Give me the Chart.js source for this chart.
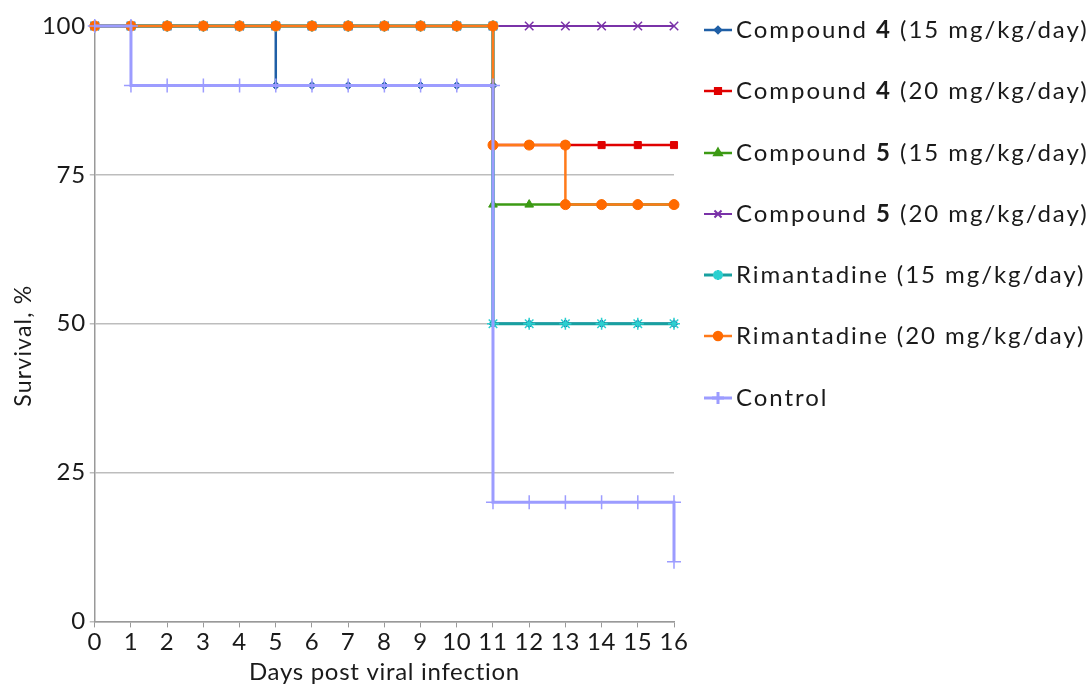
<!DOCTYPE html>
<html>
<head>
<meta charset="utf-8">
<script src="https://cdn.jsdelivr.net/npm/chart.js@4.4.1/dist/chart.umd.min.js"></script>
<style>
  body { margin: 0; background: #fff; font-family: Lato, sans-serif; }
  #wrap { position: absolute; left: 0; top: 0; width: 700px; height: 687px; }
  #legend { position: absolute; left: 703px; top: 14px; }
  .item { height: 61.3px; display: flex; align-items: flex-start; font-size: 24px; letter-spacing: 1.95px; color: #1a1a1a; white-space: nowrap; }
  .item canvas { margin-top: 8px; margin-right: 3px; }
</style>
</head>
<body>
<div id="wrap"><canvas id="surv"></canvas></div>
<div id="legend"></div>
<script>
// days post infection
var days = [0,1,2,3,4,5,6,7,8,9,10,11,12,13,14,15,16];

// survival (%) on each day
var cmp4_15 = [100,100,100,100,100,90,90,90,90,90,90,50,50,50,50,50,50];
var cmp4_20 = [100,100,100,100,100,100,100,100,100,100,100,80,80,80,80,80,80];
var cmp5_15 = [100,100,100,100,100,100,100,100,100,100,100,70,70,70,70,70,70];
var cmp5_20 = [100,100,100,100,100,100,100,100,100,100,100,100,100,100,100,100,100];
var rim_15  = [100,100,100,100,100,100,100,100,100,100,100,50,50,50,50,50,50];
var rim_20  = [100,100,100,100,100,100,100,100,100,100,100,80,80,70,70,70,70];
var control = [100,90,90,90,90,90,90,90,90,90,90,20,20,20,20,20,10];

var labels = [
  'Compound <b>4</b> (15 mg/kg/day)',
  'Compound <b>4</b> (20 mg/kg/day)',
  'Compound <b>5</b> (15 mg/kg/day)',
  'Compound <b>5</b> (20 mg/kg/day)',
  'Rimantadine (15 mg/kg/day)',
  'Rimantadine (20 mg/kg/day)',
  'Control'
];
var yTicks = [0, 25, 50, 75, 100];
var yTitle = 'Survival, %';

var series = [cmp4_15, cmp4_20, cmp5_15, cmp5_20, rim_15, rim_20, control];
var colors = ['#1f5fa6', '#e00000', '#3c9a14', '#7a32a8', '#18a0a0', '#ff7a1a', '#9c9cff'];
var pointColors = ['#1f5fa6', '#e00000', '#3c9a14', '#7a32a8', '#2ad0d0', '#ff6a00', '#9c9cff'];
var styles = ['rectRot', 'rect', 'triangle', 'crossRot', 'star', 'circle', 'cross'];
var radii = [4, 5, 5, 6, 6, 5, 7];
var widths = [2.5, 2.5, 2.5, 2, 3, 2.5, 3];

// survival curve: horizontal then drop on the event day
function steps(vals) {
  var pts = [];
  for (var i = 0; i < days.length; i++) {
    if (i > 0 && vals[i] !== vals[i - 1]) pts.push({x: days[i], y: vals[i - 1]});
    pts.push({x: days[i], y: vals[i]});
  }
  return pts;
}

var datasets = series.map(function(s, i) {
  return {
    label: labels[i].replace(/<\/?b>/g, ''),
    data: steps(s),
    showLine: true,
    borderColor: colors[i],
    borderWidth: widths[i],
    pointStyle: styles[i],
    pointRadius: radii[i],
    pointBackgroundColor: pointColors[i],
    pointBorderColor: pointColors[i],
    pointBorderWidth: styles[i] == 'cross' || styles[i] == 'crossRot' || styles[i] == 'star' ? 1.5 : 1,
    order: series.length - i,
    clip: false
  };
});

var tickFont = { family: 'Lato', size: 24 };

// wider letter spacing, and the y title sitting a bit below centre like the original
var spaced = {
  id: 'spaced',
  beforeDraw: function(chart) { chart.ctx.letterSpacing = '0.7px'; },
  afterDraw: function(chart) {
    var ctx = chart.ctx, a = chart.chartArea;
    ctx.save();
    ctx.letterSpacing = '1.2px';
    ctx.translate(24, (a.top + a.bottom) / 2 + 22);
    ctx.rotate(-Math.PI / 2);
    ctx.font = '23px Lato';
    ctx.fillStyle = '#1a1a1a';
    ctx.textAlign = 'center';
    ctx.textBaseline = 'middle';
    ctx.fillText(yTitle, 0, 0);
    ctx.restore();
    ctx.letterSpacing = '0px';
  }
};

new Chart(document.getElementById('surv'), {
  type: 'scatter',
  data: { datasets: datasets },
  plugins: [spaced],
  options: {
    responsive: true,
    maintainAspectRatio: false,
    animation: false,
    layout: { padding: { top: 26, right: 26, left: 40, bottom: 0 } },
    plugins: { legend: { display: false }, tooltip: { enabled: false } },
    scales: {
      x: {
        type: 'linear', min: 0, max: 16,
        ticks: { stepSize: 1, color: '#1a1a1a', font: tickFont, padding: 0 },
        grid: { drawOnChartArea: false, drawTicks: true, tickLength: 6, color: '#999' },
        border: { color: '#999', width: 1.5 },
        title: { display: true, text: 'Days post viral infection', color: '#1a1a1a', font: tickFont, padding: { top: 2, bottom: 0 } }
      },
      y: {
        min: 0, max: 100,
        afterBuildTicks: function(axis) { axis.ticks = yTicks.map(function(v) { return {value: v}; }); },
        ticks: { color: '#1a1a1a', font: tickFont, padding: 4 },
        grid: { drawTicks: true, tickLength: 5, color: '#bdbdbd', lineWidth: 1.5 },
        border: { color: '#999', width: 1.5 }
      }
    }
  }
});

// legend with bold compound numbers
var leg = document.getElementById('legend');
labels.forEach(function(txt, i) {
  var row = document.createElement('div');
  row.className = 'item';
  var c = document.createElement('canvas');
  c.width = 30; c.height = 16;
  var ctx = c.getContext('2d');
  ctx.strokeStyle = colors[i]; ctx.lineWidth = widths[i];
  ctx.beginPath(); ctx.moveTo(1, 8); ctx.lineTo(29, 8); ctx.stroke();
  ctx.fillStyle = pointColors[i]; ctx.strokeStyle = pointColors[i];
  Chart.helpers.drawPoint(ctx, { pointStyle: styles[i], radius: radii[i] - 1, rotation: 0, borderWidth: 1 }, 15, 8);
  row.appendChild(c);
  var span = document.createElement('span');
  span.innerHTML = txt;
  row.appendChild(span);
  leg.appendChild(row);
});
</script>
</body>
</html>
